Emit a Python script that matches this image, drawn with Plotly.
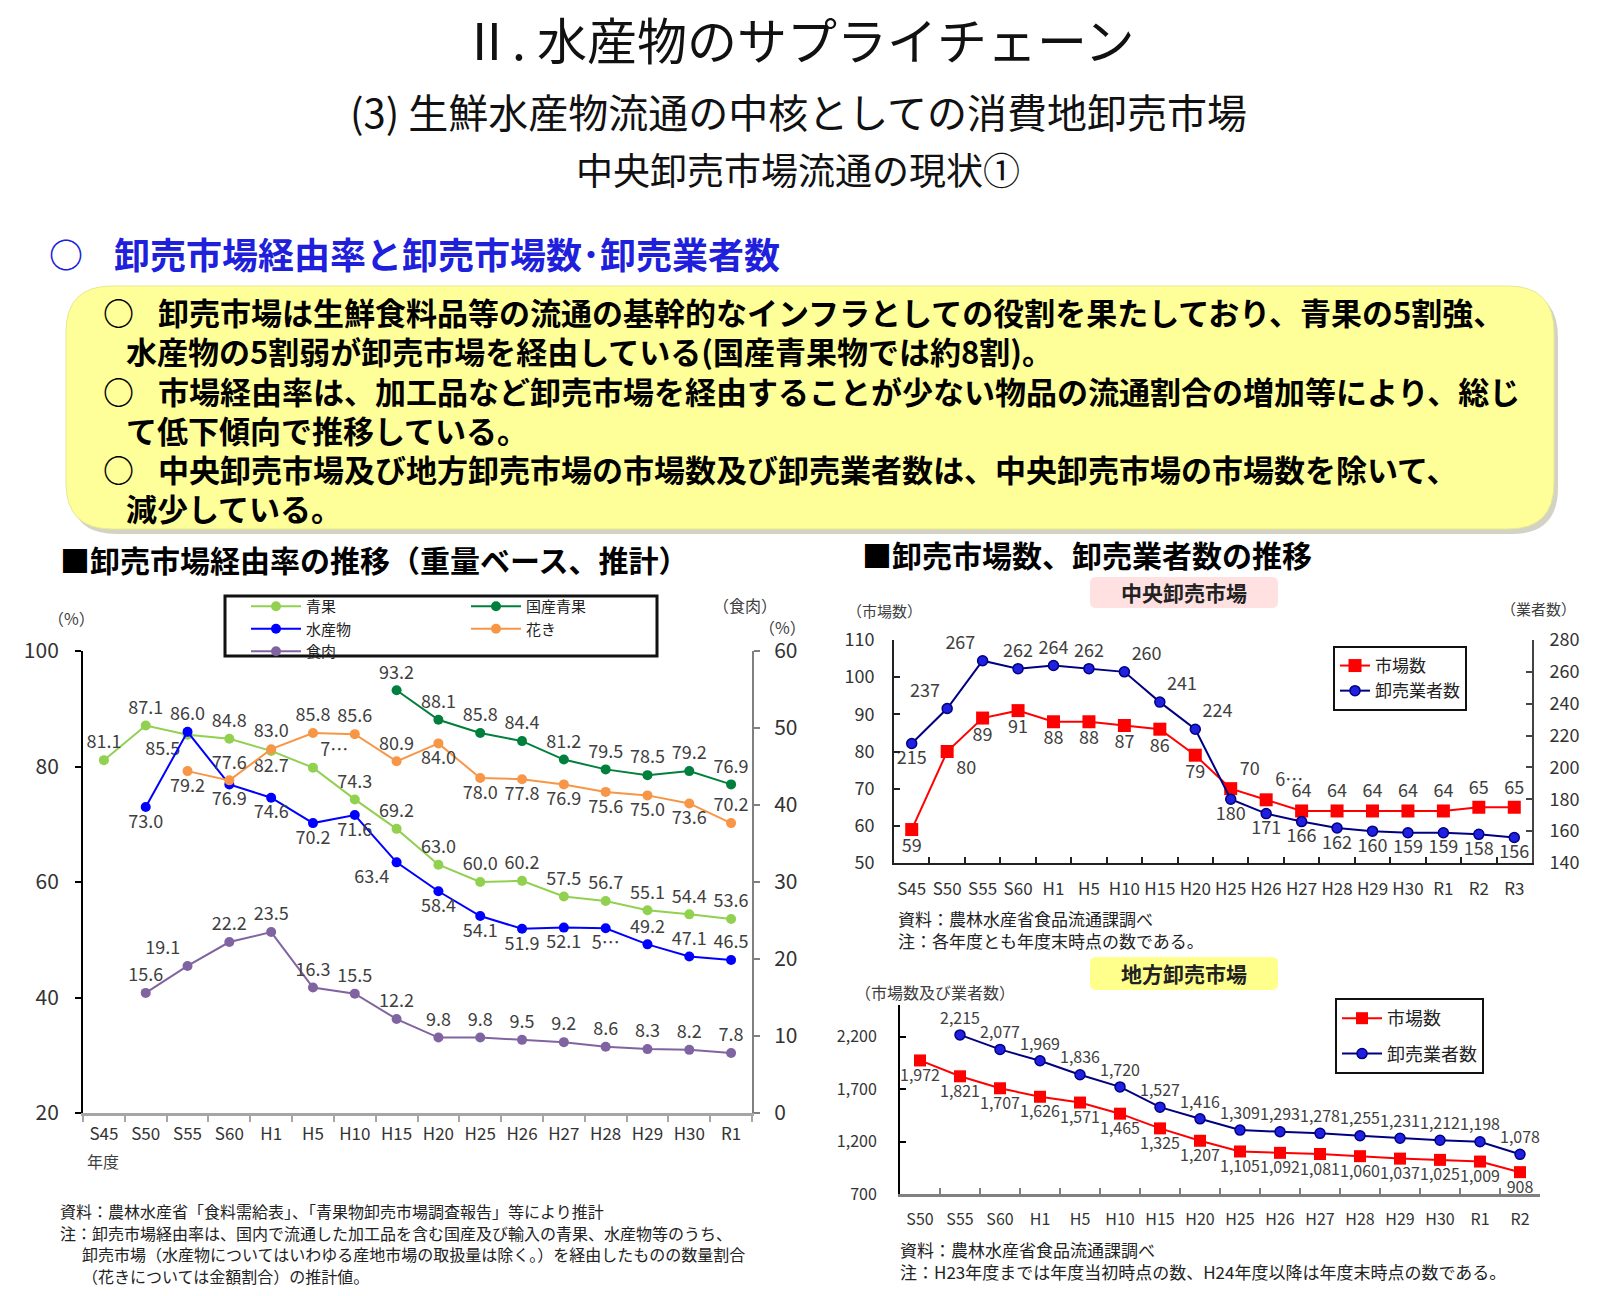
import plotly.graph_objects as go

W, H = 1600, 1296
FONT = "Noto Sans CJK JP"
TXT = "#404040"


def px(x):
    return x / W


def py(y):
    return 1 - y / H


# ---------------- data: 卸売市場経由率 ----------------
cat_rate = ["S45", "S50", "S55", "S60", "H1", "H5", "H10", "H15", "H20",
            "H25", "H26", "H27", "H28", "H29", "H30", "R1"]
seika = [81.1, 87.1, 85.5, 84.8, 82.7, 79.8, 74.3, 69.2, 63.0, 60.0, 60.2,
         57.5, 56.7, 55.1, 54.4, 53.6]
kokusan_seika = [None, None, None, None, None, None, None, 93.2, 88.1, 85.8,
                 84.4, 81.2, 79.5, 78.5, 79.2, 76.9]
suisan = [None, 73.0, 86.0, 76.9, 74.6, 70.2, 71.6, 63.4, 58.4, 54.1, 51.9,
          52.1, 52.0, 49.2, 47.1, 46.5]
kaki = [None, None, 79.2, 77.6, 83.0, 85.8, 85.6, 80.9, 84.0, 78.0, 77.8,
        76.9, 75.6, 75.0, 73.6, 70.2]
shokuniku = [None, 15.6, 19.1, 22.2, 23.5, 16.3, 15.5, 12.2, 9.8, 9.8, 9.5,
             9.2, 8.6, 8.3, 8.2, 7.8]

# ---------------- data: 中央卸売市場 ----------------
cat_central = ["S45", "S50", "S55", "S60", "H1", "H5", "H10", "H15", "H20",
               "H25", "H26", "H27", "H28", "H29", "H30", "R1", "R2", "R3"]
central_markets = [59, 80, 89, 91, 88, 88, 87, 86, 79, 70, 67, 64, 64, 64,
                   64, 64, 65, 65]
central_traders = [215, 237, 267, 262, 264, 262, 260, 241, 224, 180, 171,
                   166, 162, 160, 159, 159, 158, 156]

# ---------------- data: 地方卸売市場 ----------------
cat_local = ["S50", "S55", "S60", "H1", "H5", "H10", "H15", "H20", "H25",
             "H26", "H27", "H28", "H29", "H30", "R1", "R2"]
local_markets = [1972, 1821, 1707, 1626, 1571, 1465, 1325, 1207, 1105, 1092,
                 1081, 1060, 1037, 1025, 1009, 908]
local_traders = [None, 2215, 2077, 1969, 1836, 1720, 1527, 1416, 1309, 1293,
                 1278, 1255, 1231, 1212, 1198, 1078]


def labels(vals, fmt, override=None):
    out = ["" if v is None else fmt.format(v) for v in vals]
    for i, t in (override or {}).items():
        out[i] = t
    return out


TC, BC, TL, TR, BL, BR = ("top center", "bottom center", "top left",
                          "top right", "bottom left", "bottom right")

seika_pos = [TC, TC, BL, TC, BC, TR] + [TC] * 10
kokusan_pos = [TC] * 16
suisan_pos = [TC, BC, TC, BC, BC, BC, BC, BL, BC, BC, BC, BC, BC, TC, TC, TC]
kaki_pos = [TC, TC, BC, TC, TC, TC, TC, TC, BC, BC, BC, BC, BC, BC, BC, TC]
niku_pos = [TC, TC, TL] + [TC] * 13
cm_pos = [BC, BR] + [BC] * 7 + [TR, TR] + [TC] * 7
ct_pos = [BC, TL, TL, TC, TC, TC, TR, TR, TR] + [BC] * 9
lm_pos = [BC] * 16
lt_pos = [TC] * 16

C_SEIKA = "#92D050"
C_KOKUSAN = "#00803C"
C_SUISAN = "#0000FF"
C_KAKI = "#F79646"
C_NIKU = "#8064A2"
C_RED = "#FF0000"
C_NAVY = "#000080"
C_BLUEM = "#2020E0"

fig = go.Figure()

lab_font = dict(family=FONT, size=18, color=TXT)


def add_rate(name, vals, color, pos, yaxis, legend, override=None):
    fig.add_trace(go.Scatter(
        x=cat_rate, y=vals, name=name, mode="lines+markers+text",
        line=dict(color=color, width=2), marker=dict(color=color, size=10),
        text=labels(vals, "{:.1f}", override), textposition=pos,
        textfont=lab_font, xaxis="x", yaxis=yaxis, legend=legend,
        cliponaxis=False, connectgaps=False))


add_rate("青果", seika, C_SEIKA, seika_pos, "y", "legend", {5: "7…"})
add_rate("国産青果", kokusan_seika, C_KOKUSAN, kokusan_pos, "y", "legend2")
add_rate("水産物", suisan, C_SUISAN, suisan_pos, "y", "legend", {12: "5…"})
add_rate("花き", kaki, C_KAKI, kaki_pos, "y", "legend2")
add_rate("食肉", shokuniku, C_NIKU, niku_pos, "y2", "legend")

# 中央卸売市場
fig.add_trace(go.Scatter(
    x=cat_central, y=central_markets, name="市場数", mode="lines+markers+text",
    line=dict(color=C_RED, width=2), marker=dict(color=C_RED, size=13, symbol="square"),
    text=labels(central_markets, "{}", {10: "6…"}), textposition=cm_pos,
    textfont=lab_font, xaxis="x2", yaxis="y3", legend="legend3", cliponaxis=False))
fig.add_trace(go.Scatter(
    x=cat_central, y=central_traders, name="卸売業者数", mode="lines+markers+text",
    line=dict(color=C_NAVY, width=2),
    marker=dict(color=C_BLUEM, size=10, line=dict(color=C_NAVY, width=1.5)),
    text=labels(central_traders, "{}"), textposition=ct_pos,
    textfont=lab_font, xaxis="x2", yaxis="y4", legend="legend3", cliponaxis=False))

# 地方卸売市場
lfont = dict(family=FONT, size=16, color=TXT)
fig.add_trace(go.Scatter(
    x=cat_local, y=local_markets, name="市場数", mode="lines+markers+text",
    line=dict(color=C_RED, width=2), marker=dict(color=C_RED, size=12, symbol="square"),
    text=labels(local_markets, "{:,}"), textposition=lm_pos, textfont=lfont,
    xaxis="x3", yaxis="y5", legend="legend4", legendgroup="lm", cliponaxis=False))
fig.add_trace(go.Scatter(
    x=cat_local, y=local_traders, name="卸売業者数", mode="lines+markers+text",
    line=dict(color=C_NAVY, width=2),
    marker=dict(color=C_BLUEM, size=10, line=dict(color=C_NAVY, width=1.5)),
    text=labels(local_traders, "{:,}"), textposition=lt_pos, textfont=lfont,
    xaxis="x3", yaxis="y5", legend="legend4", legendgroup="lt", cliponaxis=False))


# ---------------- axes ----------------
def xcat(domain, anchor, cats, lc, lw, ticks, size, standoff):
    return dict(domain=domain, anchor=anchor, type="category",
                categoryorder="array", categoryarray=cats,
                range=[-0.5, len(cats) - 0.5], tickson="boundaries",
                ticks=ticks, ticklen=6, tickcolor=lc, tickwidth=2, tickangle=0,
                showline=True, linecolor=lc, linewidth=lw, showgrid=False,
                zeroline=False, tickfont=dict(family=FONT, size=size, color="#333"),
                ticklabelstandoff=standoff, fixedrange=True, automargin=False)


def yax(domain, anchor, rng, dtick, lc, ticks, size, standoff, side="left",
        overlaying=None, **kw):
    d = dict(domain=domain, anchor=anchor, range=rng, dtick=dtick, side=side,
             ticks=ticks, ticklen=6, tickcolor=lc, tickwidth=2, showline=True,
             linecolor=lc, linewidth=2, showgrid=False, zeroline=False,
             tickfont=dict(family=FONT, size=size, color="#333"),
             ticklabelstandoff=standoff, fixedrange=True, automargin=False)
    if overlaying:
        d["overlaying"] = overlaying
        d.pop("domain")
    d.update(kw)
    return d


dom_l_y = [py(1113), py(651)]
dom_tr_y = [py(863), py(640)]
dom_br_y = [py(1194), py(1005)]

fig.update_layout(
    xaxis=xcat([px(83), px(752)], "y", cat_rate, "#A6A6A6", 3, "outside", 17, 4),
    yaxis=yax(dom_l_y, "x", [20, 100], 20, "#000000", "outside", 21, 12),
    yaxis2=yax(None, "x", [0, 60], 10, "#808080", "outside", 21, 10,
               side="right", overlaying="y"),
    xaxis2=xcat([px(894), px(1532)], "y3", cat_central, "#222222", 2, "inside", 17, 10),
    yaxis3=yax(dom_tr_y, "x2", [50, 110], 10, "#222222", "inside", 18, 14),
    yaxis4=yax(None, "x2", [140, 280], 20, "#444444", "inside", 18, 12,
               side="right", overlaying="y3"),
    xaxis3=xcat([px(900), px(1540)], "y5", cat_local, "#808080", 3, "inside", 16, 9),
    yaxis5=yax(dom_br_y, "x3", [700, 2500], None, "#000000", "inside", 16, 18,
               tickvals=[700, 1200, 1700, 2200], tickformat=","),
)

# ---------------- legends ----------------
fig.update_layout(
    legend=dict(x=px(246), y=py(590), xanchor="left", yanchor="top",
                font=dict(family=FONT, size=15, color="#222"), itemwidth=50,
                bgcolor="rgba(0,0,0,0)", borderwidth=0, tracegroupgap=0),
    legend2=dict(x=px(466), y=py(590), xanchor="left", yanchor="top",
                 font=dict(family=FONT, size=15, color="#222"), itemwidth=50,
                 bgcolor="rgba(0,0,0,0)", borderwidth=0, tracegroupgap=0),
    legend3=dict(x=px(1333), y=py(646), xanchor="left", yanchor="top",
                 font=dict(family=FONT, size=17, color="#222"),
                 bgcolor="white", bordercolor="#111111", borderwidth=2,
                 tracegroupgap=0),
    legend4=dict(x=px(1335), y=py(998), xanchor="left", yanchor="top",
                 font=dict(family=FONT, size=18, color="#222"), itemwidth=40,
                 bgcolor="white", bordercolor="#111111", borderwidth=2,
                 tracegroupgap=9),
)


# ---------------- shapes ----------------
def rrect(x0, y0, x1, y1, r):
    X = lambda v: f"{v / W:.5f}"
    Y = lambda v: f"{1 - v / H:.5f}"
    return (f"M {X(x0 + r)},{Y(y0)} L {X(x1 - r)},{Y(y0)} "
            f"Q {X(x1)},{Y(y0)} {X(x1)},{Y(y0 + r)} L {X(x1)},{Y(y1 - r)} "
            f"Q {X(x1)},{Y(y1)} {X(x1 - r)},{Y(y1)} L {X(x0 + r)},{Y(y1)} "
            f"Q {X(x0)},{Y(y1)} {X(x0)},{Y(y1 - r)} L {X(x0)},{Y(y0 + r)} "
            f"Q {X(x0)},{Y(y0)} {X(x0 + r)},{Y(y0)} Z")


shapes = [
    dict(type="path", xref="paper", yref="paper", path=rrect(70, 291, 1558, 534, 46),
         fillcolor="rgba(130,130,90,0.35)", line=dict(width=0), layer="below"),
    dict(type="path", xref="paper", yref="paper", path=rrect(66, 286, 1554, 529, 46),
         fillcolor="#FFFF99", line=dict(color="#E8E890", width=1), layer="below"),
    dict(type="path", xref="paper", yref="paper", path=rrect(1090, 577, 1278, 608, 6),
         fillcolor="#FFE1E1", line=dict(width=0), layer="below"),
    dict(type="path", xref="paper", yref="paper", path=rrect(1090, 957, 1278, 990, 6),
         fillcolor="#FFFF8C", line=dict(width=0), layer="below"),
    dict(type="rect", xref="paper", yref="paper", x0=px(225), x1=px(657),
         y0=py(656), y1=py(596), line=dict(color="#111111", width=3),
         fillcolor="rgba(0,0,0,0)", layer="above"),
]
fig.update_layout(shapes=shapes)

# ---------------- annotations ----------------
ann = []


def text(t, x, y, size, xanchor="left", color="#000", weight="normal"):
    ann.append(dict(text=t, x=px(x), y=py(y), xref="paper", yref="paper",
                    xanchor=xanchor, yanchor="middle", showarrow=False,
                    font=dict(family=FONT, size=size, color=color, weight=weight)))


text("Ⅱ. 水産物のサプライチェーン", 798, 38, 50, "center", "#111")
text("(3) 生鮮水産物流通の中核としての消費地卸売市場", 798, 111, 40, "center", "#111")
text("中央卸売市場流通の現状①", 798, 169, 37, "center", "#111")

BLUE_H = "#2020DC"
text("○", 66, 253, 34, "center", BLUE_H, "bold")
text("卸売市場経由率と卸売市場数･卸売業者数", 112, 253, 36, "left", BLUE_H, "bold")

BS = 31
text("○", 118, 311, BS, "center", "#000", "bold")
text("卸売市場は生鮮食料品等の流通の基幹的なインフラとしての役割を果たしており、青果の5割強、",
     156, 311, BS, "left", "#000", "bold")
text("水産物の5割弱が卸売市場を経由している(国産青果物では約8割)。", 124, 350, BS, "left", "#000", "bold")
text("○", 118, 390, BS, "center", "#000", "bold")
text("市場経由率は、加工品など卸売市場を経由することが少ない物品の流通割合の増加等により、総じ",
     156, 390, BS, "left", "#000", "bold")
text("て低下傾向で推移している。", 124, 429, BS, "left", "#000", "bold")
text("○", 118, 468, BS, "center", "#000", "bold")
text("中央卸売市場及び地方卸売市場の市場数及び卸売業者数は、中央卸売市場の市場数を除いて、",
     156, 468, BS, "left", "#000", "bold")
text("減少している。", 124, 507, BS, "left", "#000", "bold")

text("■卸売市場経由率の推移（重量ベース、推計）", 58, 559, 30, "left", "#000", "bold")
text("■卸売市場数、卸売業者数の推移", 860, 554, 30, "left", "#000", "bold")

# left chart units
text("（%）", 71, 618, 16, "center", TXT)
text("（食肉）", 745, 605, 16, "center", TXT)
text("（%）", 782, 627, 16, "center", TXT)
text("年度", 85, 1161, 16, "left", TXT)

# left notes
NS = 16
text("資料：農林水産省「食料需給表」、「青果物卸売市場調査報告」等により推計", 58, 1211, NS, "left", "#222")
text("注：卸売市場経由率は、国内で流通した加工品を含む国産及び輸入の青果、水産物等のうち、", 58, 1233, NS, "left", "#222")
text("卸売市場（水産物についてはいわゆる産地市場の取扱量は除く。）を経由したものの数量割合", 80, 1254, NS, "left", "#222")
text("（花きについては金額割合）の推計値。", 80, 1276, NS, "left", "#222")

# right top
text("中央卸売市場", 1184, 592, 21, "center", "#222", "bold")
text("（市場数）", 845, 610, 15, "left", TXT)
text("（業者数）", 1578, 608, 15, "right", TXT)
text("資料：農林水産省食品流通課調べ", 896, 918, 17, "left", "#222")
text("注：各年度とも年度末時点の数である。", 896, 941, 17, "left", "#222")

# right bottom
text("地方卸売市場", 1184, 973, 21, "center", "#222", "bold")
text("（市場数及び業者数）", 853, 992, 16, "left", TXT)
text("資料：農林水産省食品流通課調べ", 898, 1249, 17, "left", "#222")
text("注：H23年度までは年度当初時点の数、H24年度以降は年度末時点の数である。", 898, 1271, 17, "left", "#222")

fig.update_layout(
    annotations=ann,
    width=W, height=H,
    margin=dict(l=0, r=0, t=0, b=0, pad=0),
    paper_bgcolor="white", plot_bgcolor="rgba(0,0,0,0)",
    font=dict(family=FONT, color="#333"),
    showlegend=True,
)

fig.write_html("out.html")
